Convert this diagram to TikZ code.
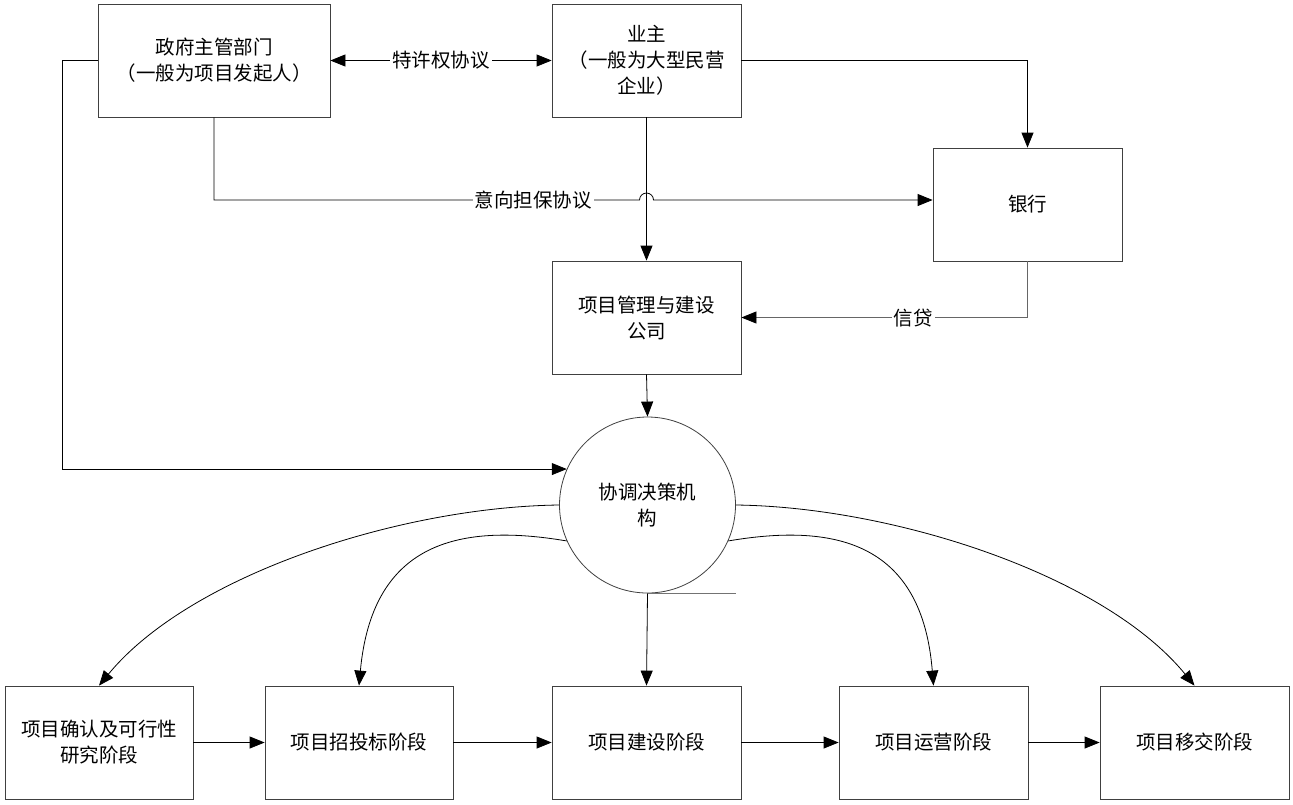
\documentclass[tikz,border=0pt]{standalone}
\usepackage{fontspec}
\setmainfont{Noto Sans CJK SC}
\usetikzlibrary{arrows.meta,calc}
\newcommand\dfont{\fontsize{19.5}{26}\selectfont}
\begin{document}
\begin{tikzpicture}[x=1pt,y=-1pt,
  box/.style={draw=black!75,line width=0.8pt,minimum height=113pt,align=center,inner sep=0pt,font=\dfont},
  conn/.style={line width=0.8pt,draw=black},
  arr/.style={conn,-{Triangle[length=15pt,width=12pt,color=black]}},
  arrtwo/.style={conn,{Triangle[length=15pt,width=12pt]}-{Triangle[length=15pt,width=12pt]}},
  lbl/.style={fill=white,inner sep=2pt,font=\dfont}]
\useasboundingbox (0,0) rectangle (1293,804);
\fill[white] (0,0) rectangle (1293,804);
% nodes
\node[box,minimum width=232pt] (gov) at (214,60.5) {政府主管部门\\（一般为项目发起人）};
\node[box,minimum width=189pt] (owner) at (646.5,60.5) {业主\\（一般为大型民营\\企业）};
\node[box,minimum width=189pt] (bank) at (1027.5,204.5) {银行};
\node[box,minimum width=189pt] (pm) at (646.5,317.5) {项目管理与建设\\公司};
\node[box,circle,minimum size=176pt] (circ) at (647.5,505) {协调决策机\\构};
\node[box,minimum width=188pt] (b1) at (99,742.5) {项目确认及可行性\\研究阶段};
\node[box,minimum width=188pt] (b2) at (359,742.5) {项目招投标阶段};
\node[box,minimum width=189pt] (b3) at (646.5,742.5) {项目建设阶段};
\node[box,minimum width=189pt] (b4) at (933.5,742.5) {项目运营阶段};
\node[box,minimum width=189pt] (b5) at (1194.5,742.5) {项目移交阶段};
% connectors top
\draw[arrtwo] (gov.east) -- (owner.west);
\node[lbl] (l1) at (441,60.5) {特许权协议};
\draw[arr] (owner.east) -| (bank.north);
\coordinate (ly) at (0,200);
\draw[arr] (gov.south) |- ([xshift=-7pt]owner.south |- ly) arc[start angle=180,end angle=0,radius=7pt] -- (bank.west |- ly);
\node[lbl] (l2) at (533,200) {意向担保协议};
\draw[arr] (owner.south) -- (pm.north);
\draw[arr,draw=black!60] (bank.south) |- (pm.east);
\node[lbl] (l3) at (913,318) {信贷};
\draw[arr] (pm.south) -- (circ.north);
\draw[arr] (gov.west) -- ++(-35,0) |- (circ.156);
% curves
\draw[arr] (circ.180) .. controls (400,507) and (190,575) .. (b1.north);
\draw[arr] (circ.204) .. controls (455,522) and (372,545) .. (b2.north);
\draw[arr] (circ.-24) .. controls (839,522) and (922,545) .. (b4.north);
\draw[arr] (circ.0) .. controls (894,507) and (1104,575) .. (b5.north);
\draw[arr] (circ.south) -- (b3.north);
\draw[line width=1pt,draw=black!55] (circ.south) -- ++(88,0);
% bottom chain
\draw[arr] (b1) -- (b2);
\draw[arr] (b2) -- (b3);
\draw[arr] (b3) -- (b4);
\draw[arr] (b4) -- (b5);
\end{tikzpicture}
\end{document}
